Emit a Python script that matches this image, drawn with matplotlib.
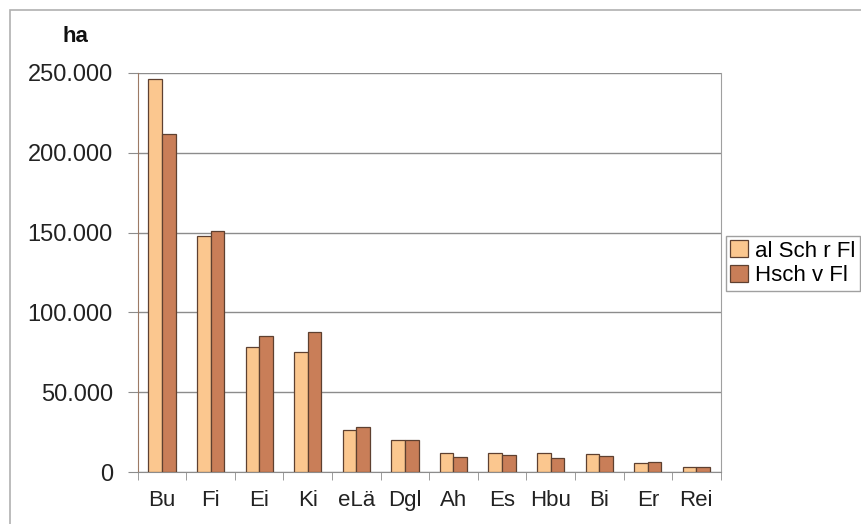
import matplotlib
matplotlib.use("Agg")
import matplotlib.pyplot as plt
import numpy as np
from matplotlib.patches import Rectangle
from matplotlib.ticker import FuncFormatter

categories = ["Bu", "Fi", "Ei", "Ki", "eLä", "Dgl", "Ah", "Es", "Hbu", "Bi", "Er", "Rei"]
series_names = ["al Sch r Fl", "Hsch v Fl"]
light_vals = [246000, 148000, 78500, 75500, 26500, 20000, 12000, 12000, 11800, 11500, 5500, 3000]
dark_vals = [212000, 151000, 85500, 87500, 28000, 20000, 9500, 10500, 8800, 10300, 6500, 3000]
yticks = [0, 50000, 100000, 150000, 200000, 250000]

plt.rcParams['font.family'] = ['Liberation Sans', 'DejaVu Sans']

fig = plt.figure(figsize=(8.61, 5.24), dpi=100)
ax = fig.add_axes([0.160, 0.099, 0.677, 0.762])

x = np.arange(len(categories))
w = 0.28
light_c = "#FBC78F"
dark_c = "#C97E58"
edge_c = "#5E4030"
ax.bar(x - w/2, light_vals, w, color=light_c, edgecolor=edge_c, linewidth=0.9, label=series_names[0], zorder=3)
ax.bar(x + w/2, dark_vals, w, color=dark_c, edgecolor=edge_c, linewidth=0.9, label=series_names[1], zorder=3)

ax.set_xlim(-0.5, len(categories) - 0.5)
ax.set_ylim(0, 250000)
ax.set_yticks(yticks)
ax.yaxis.set_major_formatter(FuncFormatter(lambda v, p: "0" if v == 0 else f"{int(v):,}".replace(",", ".")))
ax.yaxis.grid(True, color="#8C8C8C", linewidth=1.0, zorder=0)

ax.set_xticks(x)
ax.set_xticklabels(categories)
ax.set_xticks(np.arange(-0.5, len(categories)), minor=True)
ax.tick_params(axis='x', which='major', length=0, pad=13, labelsize=16, colors="#222222")
ax.tick_params(axis='x', which='minor', length=6, direction='out', color="#8C8C8C")
ax.tick_params(axis='y', length=7, direction='out', pad=11, labelsize=17, colors="#8C8C8C", labelcolor="#222222")

ax.spines['top'].set_visible(False)
ax.spines['left'].set_color("#9C7A66")
ax.spines['bottom'].set_color("#8C8C8C")
ax.spines['right'].set_color("#A0A0A0")

fig.text(62/861, 1 - 37/524, "ha", fontsize=16, fontweight='bold', va='center', ha='left', color="#111111")

leg = fig.legend(loc='upper left', bbox_to_anchor=(726/861, 1 - 236/524), frameon=True,
                 fontsize=16, handlelength=0.8, handleheight=0.8, handletextpad=0.3,
                 borderpad=0.2, labelspacing=0.15, fancybox=False, borderaxespad=0)
leg.get_frame().set_edgecolor("#888888")
leg.get_frame().set_linewidth(1.0)

fig.patches.append(Rectangle((10/861, -0.1), 1.2, 1.1 - 10/524, transform=fig.transFigure,
                             fill=False, edgecolor="#B0B0B0", linewidth=1.2))

fig.savefig("out.png", dpi=100)
